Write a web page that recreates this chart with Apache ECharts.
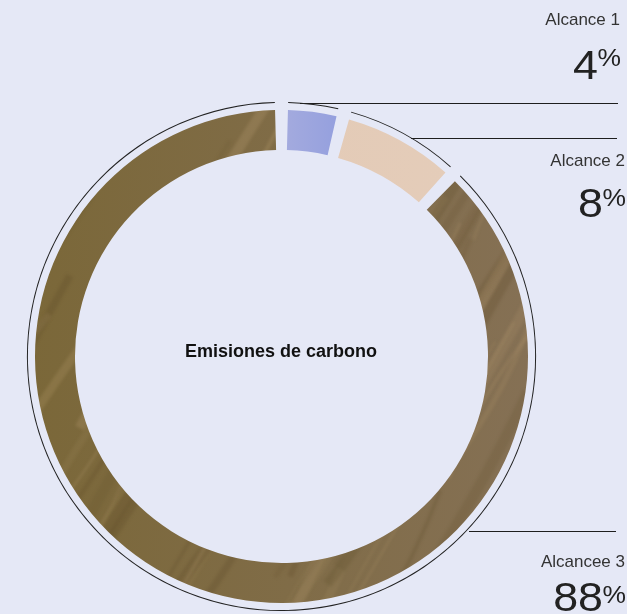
<!DOCTYPE html>
<html><head><meta charset="utf-8">
<script src="https://cdn.jsdelivr.net/npm/echarts@6/dist/echarts.min.js"></script>
<style>html,body{margin:0;padding:0;background:#e5e8f6;}#c{width:627px;height:614px;}</style>
</head><body><div id="c"></div>
<script>
const categories = ['Alcance 1', 'Alcance 2', 'Alcancee 3'];
const values = [4, 8, 88];
const centerTitle = 'Emisiones de carbono';

function makeTexture(w, h, base1, base2, light, dark, n, seed, alphaK) {
  const cv = document.createElement('canvas');
  cv.width = w; cv.height = h;
  const g = cv.getContext('2d');
  const gr = g.createLinearGradient(0, 0, w, 0);
  gr.addColorStop(0, base1); gr.addColorStop(1, base2);
  g.fillStyle = gr; g.fillRect(0, 0, w, h);
  g.filter = 'blur(1.5px)';
  const ang = -60 * Math.PI / 180;
  const dx = Math.cos(ang), dy = Math.sin(ang);
  for (let i = 0; i < n; i++) {
    const t = i + seed;
    const x0 = -300 + i * (w + 600) / n + 25 * Math.sin(t * 1.7);
    const y0 = h + 50 + 80 * Math.sin(t * 0.9);
    const len = 150 + 250 * (0.5 + 0.5 * Math.sin(t * 2.3));
    const sx = x0 + 140 * Math.sin(t * 3.1), sy = y0 - 350 * (0.5 + 0.5 * Math.sin(t * 1.3));
    g.strokeStyle = (Math.sin(t * 2.9) > -0.2) ? light : dark;
    g.globalAlpha = alphaK * (0.10 + 0.14 * (0.5 + 0.5 * Math.sin(t * 4.7)));
    g.lineWidth = 2 + 9 * (0.5 + 0.5 * Math.sin(t * 5.3));
    g.beginPath();
    g.moveTo(sx, sy);
    g.quadraticCurveTo(sx + dx * len * 0.5 + 25 * Math.sin(t), sy + dy * len * 0.5, sx + dx * len, sy + dy * len);
    g.stroke();
  }
  g.globalAlpha = 1;
  g.filter = 'none';
  return cv;
}

const W = 627, H = 614;
const brownTex = makeTexture(W, H, '#7a6737', '#87725a', '#bb9f72', '#5a4826', 150, 3, 1.1);
const peachTex = makeTexture(W, H, '#e2c8b2', '#e5cebc', '#f0dccb', '#d6baa2', 60, 7, 0.8);

const fills = [
  { type: 'linear', x: 0, y: 0, x2: 1, y2: 0, colorStops: [{ offset: 0, color: '#a3aade' }, { offset: 1, color: '#95a0de' }] },
  { image: peachTex, repeat: 'no-repeat' },
  { image: brownTex, repeat: 'no-repeat' }
];

const pieData = categories.map((c, i) => ({ name: c, value: values[i], itemStyle: { color: fills[i] } }));
const ringData = categories.map((c, i) => ({ name: c, value: values[i] }));

const chart = echarts.init(document.getElementById('c'), null, { renderer: 'canvas' });

const labelFont = '"Liberation Sans", Arial, sans-serif';
const annos = [
  { line: [[300, 103.5], [618, 103.5]], right: 620, nameY: 20.5, numY: 68, pctY: 59 },
  { line: [[411, 138.5], [617, 138.5]], right: 625, nameY: 161, numY: 206, pctY: 199 },
  { line: [[469, 531.5], [616, 531.5]], right: 625, nameY: 562.5, numY: 600, pctY: 596 }
];
const graphics = [];
annos.forEach((a, i) => {
  graphics.push({ type: 'line', silent: true, shape: { x1: a.line[0][0], y1: a.line[0][1], x2: a.line[1][0], y2: a.line[1][1] }, style: { stroke: '#1e1e1e', lineWidth: 1 } });
  graphics.push({ type: 'text', silent: true, x: a.right, y: a.nameY, style: { text: categories[i], font: '17px ' + labelFont, fill: '#333', align: 'right', verticalAlign: 'middle' } });
  graphics.push({ type: 'text', silent: true, x: a.right - 22, y: a.numY, scaleX: 1.12, style: { text: String(values[i]), font: '40px ' + labelFont, fill: '#222', align: 'right', verticalAlign: 'middle' } });
  graphics.push({ type: 'text', silent: true, x: a.right + 1, y: a.pctY, scaleX: 1.1, style: { text: '%', font: '24px ' + labelFont, fill: '#222', align: 'right', verticalAlign: 'middle' } });
});
graphics.push({ type: 'text', silent: true, x: 281, y: 352, style: { text: centerTitle, font: 'bold 18px ' + labelFont, fill: '#111', align: 'center', verticalAlign: 'middle' } });

chart.setOption({
  backgroundColor: '#e5e8f6',
  animation: false,
  series: [
    {
      type: 'pie', silent: true, center: [281.5, 356.5], radius: [206.5, 246.5],
      startAngle: 90, clockwise: true, padAngle: 3,
      label: { show: false }, labelLine: { show: false },
      emphasis: { disabled: true },
      data: pieData
    },
    {
      type: 'pie', silent: true, center: [281.5, 356.5], radius: [253.6, 254.6],
      startAngle: 90, clockwise: true, padAngle: 3,
      label: { show: false }, labelLine: { show: false },
      itemStyle: { color: '#222' },
      emphasis: { disabled: true },
      data: ringData
    }
  ],
  graphic: graphics
});
</script>
</body></html>
